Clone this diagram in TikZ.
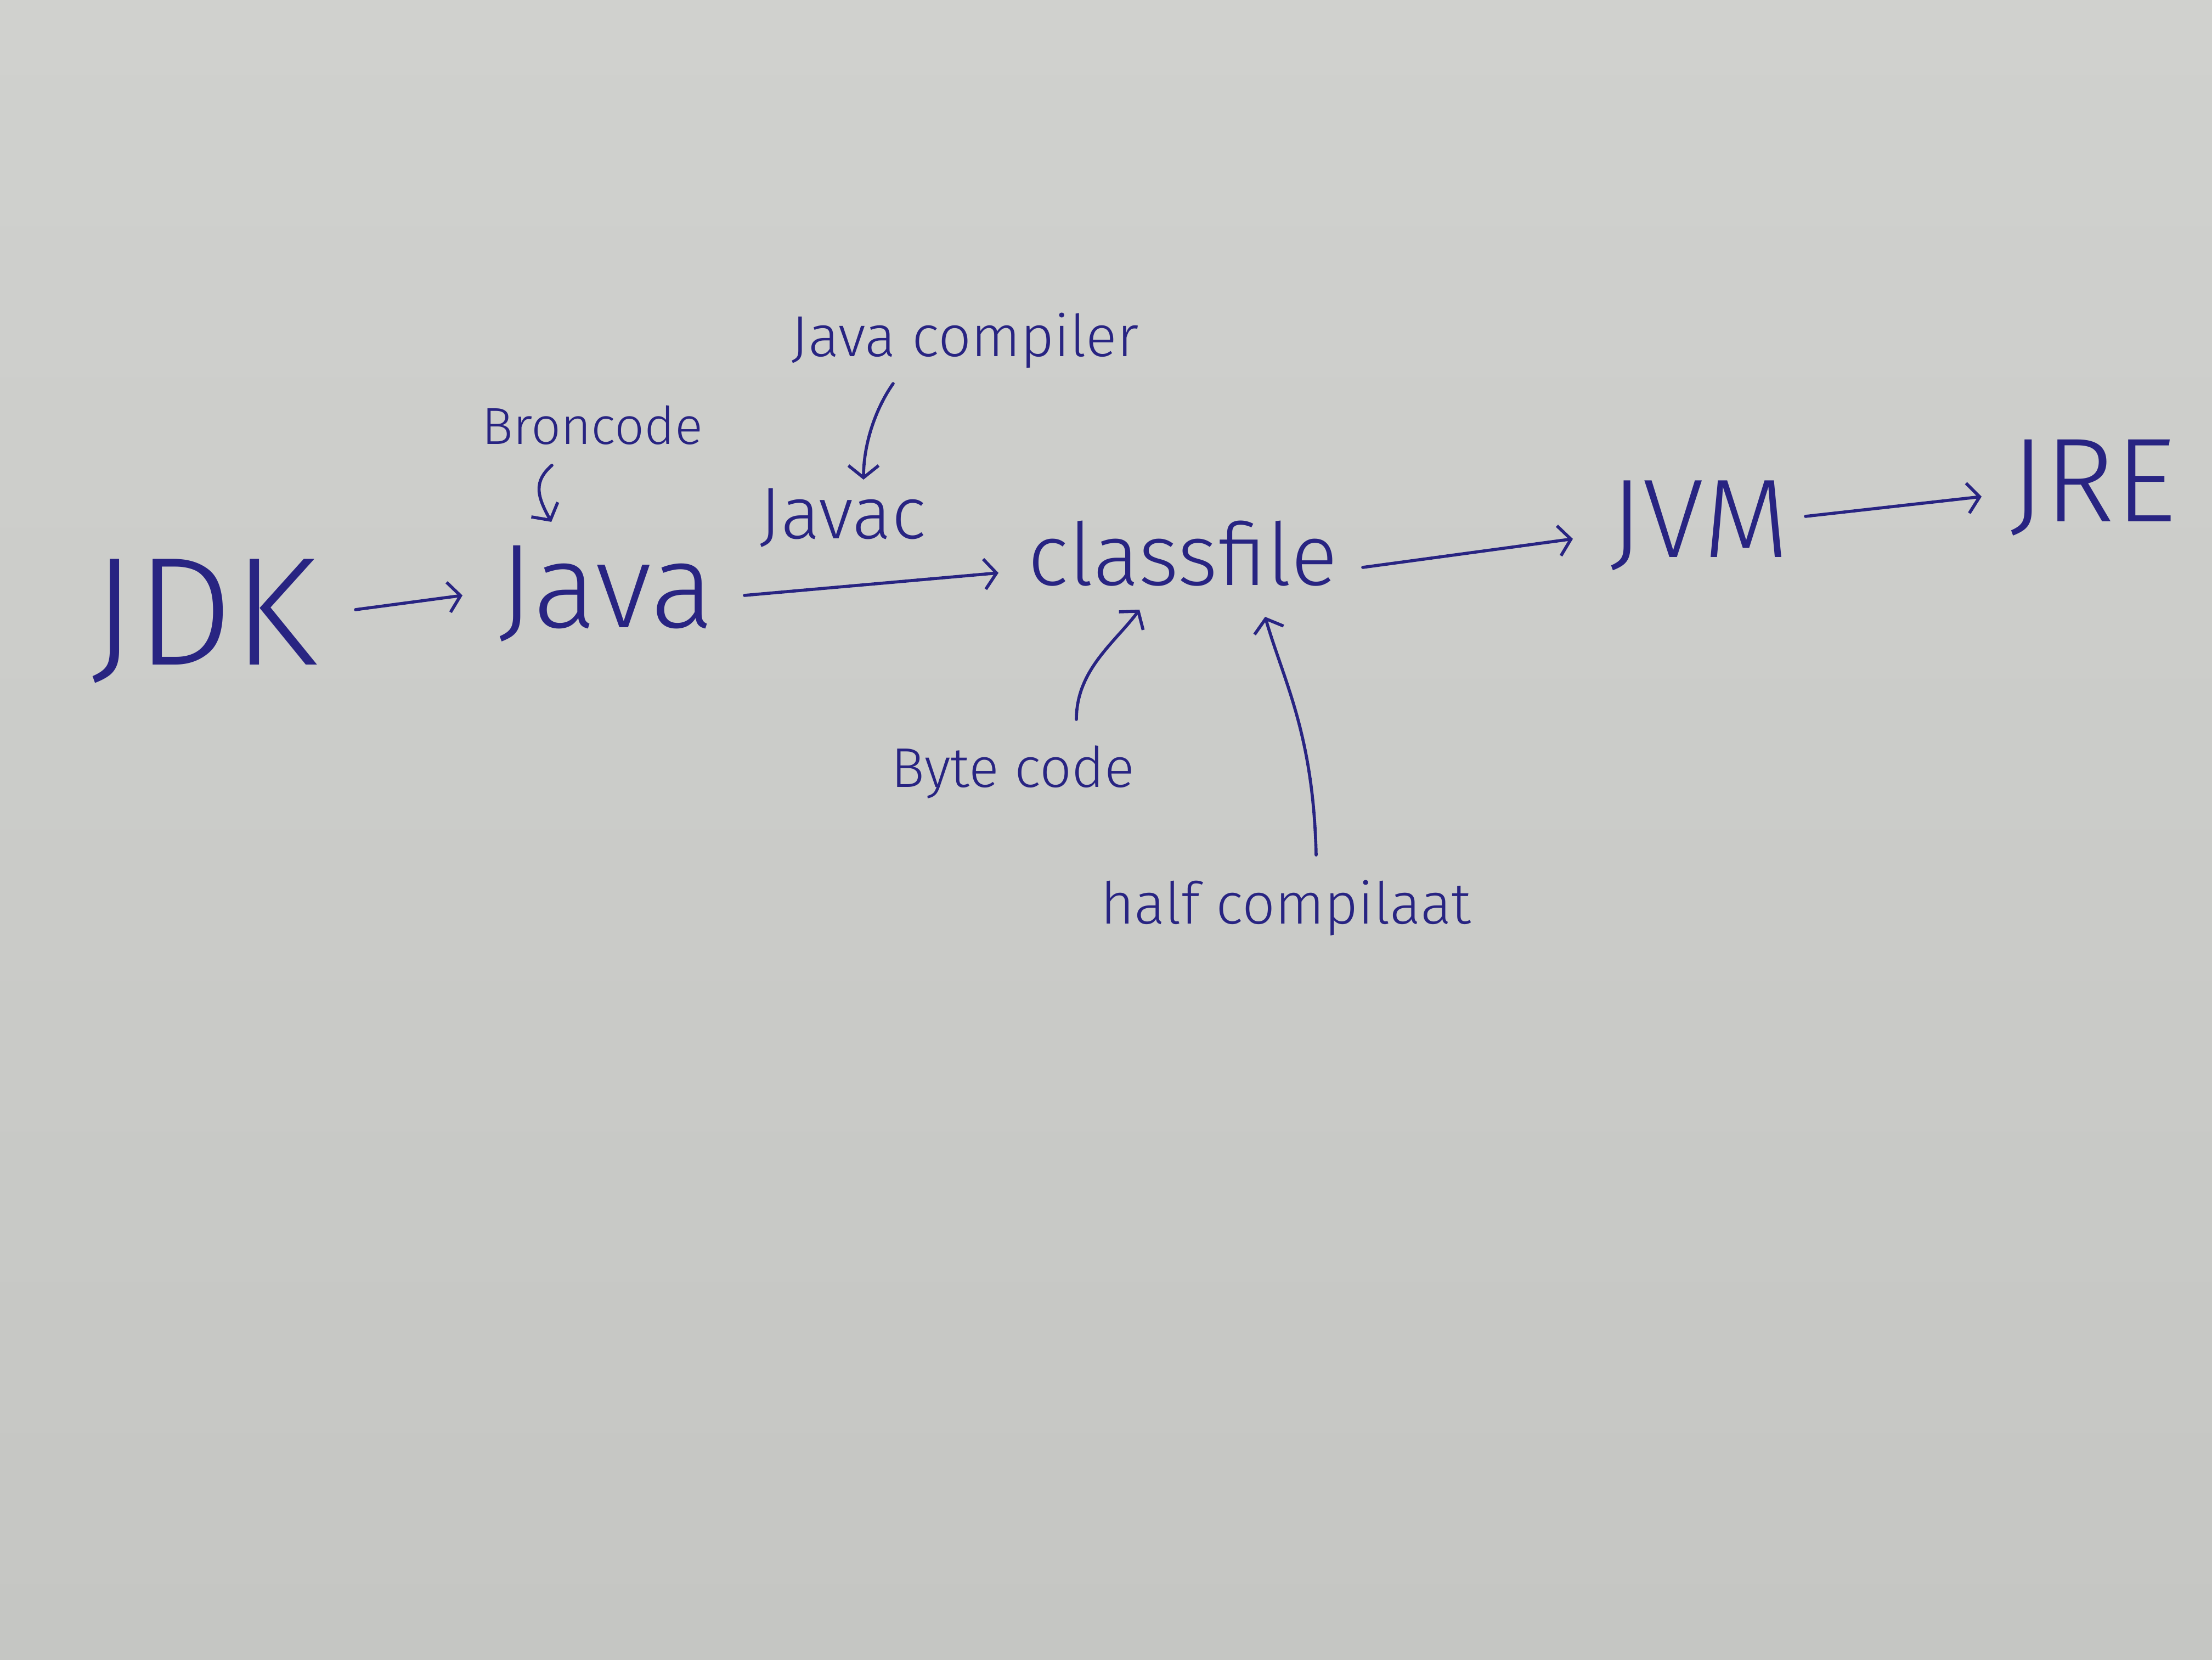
\documentclass[tikz,border=0pt]{standalone}
\usepackage{fontspec}
\setmainfont{Fira Sans Light}
\usetikzlibrary{arrows.meta}
\definecolor{ink}{RGB}{40,36,130}
\definecolor{paperA}{RGB}{208,209,206}
\definecolor{paperB}{RGB}{197,198,195}
\newcommand\hwsize[1]{\fontsize{#1}{#1}\selectfont}
\begin{document}
\begin{tikzpicture}[
  every node/.style={text=ink, inner sep=0pt},
  word/.style={anchor=base},
  arr/.style={draw=ink, line width=1.6pt, line cap=round,
    -{Straight Barb[length=2.2mm, width=5.5mm, line width=1.6pt]}},
]
\fill[top color=paperA, bottom color=paperB] (0,0) rectangle (40.32,30.24);
\useasboundingbox (0,0) rectangle (40.32,30.24);

% main chain
\node[word, font=\hwsize{80}] (jdk)   at (3.72,18.12)  {JDK};
\node[word, font=\hwsize{62}] (java)  at (11.05,18.80) {Java};
\node[word, font=\hwsize{38}] (javac) at (15.36,20.42) {Javac};
\node[word, font=\hwsize{45}] (cls)   at (21.56,19.57) {classfile};
\node[word, font=\hwsize{58}] (jvm)   at (30.98,20.08) {JVM};
\node[word, font=\hwsize{62}] (jre)   at (38.15,20.73) {JRE};

% annotations
\node[word, font=\hwsize{27}] (bron)  at (10.80,22.14) {Broncode};
\node[word, font=\hwsize{30}] (comp)  at (17.59,23.74) {Java compiler};
\node[word, font=\hwsize{29}] (byte)  at (18.46,15.89) {Byte code};
\node[word, font=\hwsize{30}] (half)  at (23.44,13.40) {half compilaat};

% chain arrows
\draw[arr] ([shift={(2.76,1.01)}]jdk.base) -- ([shift={(-2.62,0.59)}]java.base);
\draw[arr] ([shift={(2.52,0.59)}]java.base) -- ([shift={(-3.36,0.23)}]cls.base);
\draw[arr] ([shift={(3.28,0.33)}]cls.base) -- ([shift={(-2.31,0.34)}]jvm.base);
\draw[arr] ([shift={(1.93,0.75)}]jvm.base) -- ([shift={(-2.03,0.46)}]jre.base);

% annotation arrows
\draw[arr] ([shift={(-0.74,-0.38)}]bron.base) .. controls +(-0.35,-0.3) and +(-0.25,0.45) .. ([shift={(-1.0,1.93)}]java.base);
\draw[arr] ([shift={(-1.31,-0.49)}]comp.base) .. controls +(-0.35,-0.5) and +(0,0.6) .. ([shift={(0.38,1.08)}]javac.base);
\draw[arr] ([shift={(1.16,1.24)}]byte.base) .. controls +(0,0.9) and +(-0.45,-0.6) .. ([shift={(-0.79,-0.44)}]cls.base);
\draw[arr] ([shift={(0.55,1.26)}]half.base) .. controls +(-0.05,2.2) and +(0.35,-1.2) .. ([shift={(1.50,-0.57)}]cls.base);
\end{tikzpicture}
\end{document}
